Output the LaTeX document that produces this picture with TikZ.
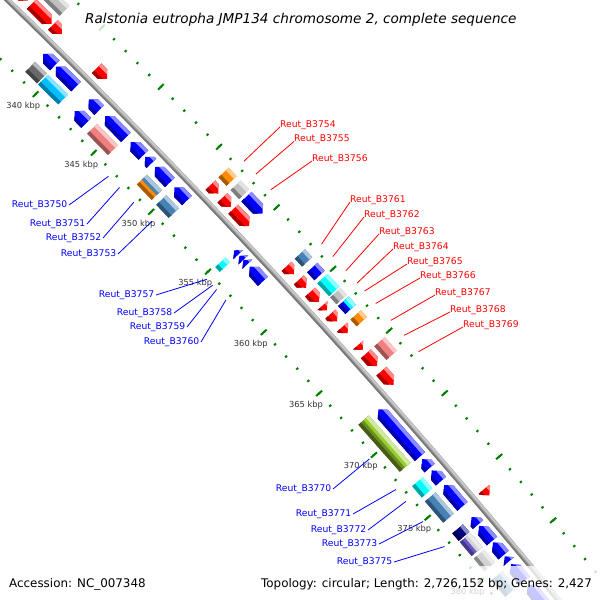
\documentclass[tikz,border=0pt]{standalone}
\usepackage{fontspec}
\setmainfont{DejaVu Sans}
\definecolor{cdsred}{RGB}{255,0,0}
\definecolor{cdsblue}{RGB}{0,0,255}
\definecolor{cgray}{RGB}{192,192,192}
\definecolor{cdgray}{RGB}{105,105,105}
\definecolor{corange}{RGB}{255,140,0}
\definecolor{csky}{RGB}{0,191,255}
\definecolor{ccyan}{RGB}{0,255,255}
\definecolor{csteel}{RGB}{70,130,180}
\definecolor{cpink}{RGB}{240,128,128}
\definecolor{cgreen}{RGB}{154,205,50}
\definecolor{colive}{RGB}{107,142,35}
\definecolor{cnavy}{RGB}{0,0,128}
\definecolor{cslate}{RGB}{106,90,205}
\definecolor{cltgray}{RGB}{211,211,211}
\definecolor{tickc}{RGB}{0,128,0}
\definecolor{bbgray}{RGB}{160,160,160}
\definecolor{bblight}{RGB}{200,200,200}
\definecolor{bbdark}{RGB}{120,120,120}
\definecolor{labred}{RGB}{255,0,0}
\definecolor{labblue}{RGB}{0,0,255}
\definecolor{ticktext}{RGB}{51,51,51}
\newcommand\Rb{7203.5}
\newcommand\gcalc[4]{%
  \pgfmathsetmacro\gnA{90-0.132054*#1}%
  \pgfmathsetmacro\gnB{90-0.132054*#2}%
  \pgfmathsetmacro\gnH{min(0.4,#2-#1)}%
  \pgfmathsetmacro\gnF{90-0.132054*(#2-\gnH)}%
  \pgfmathsetmacro\gnR{90-0.132054*(#1+\gnH)}%
  \pgfmathsetmacro\gnI{\Rb+(#3)}%
  \pgfmathsetmacro\gnO{\Rb+(#4)}%
  \pgfmathsetmacro\gnM{\Rb+((#3)+(#4))/2}%
  \pgfmathsetmacro\gnIb{\Rb+(#3)+0.27*((#4)-(#3))}%
  \pgfmathsetmacro\gnOb{\Rb+(#4)-0.27*((#4)-(#3))}%
}
\def\gpF{({\gnA}:{\gnI}) -- ({\gnA}:{\gnO}) -- ({\gnF}:{\gnO}) -- ({\gnB}:{\gnM}) -- ({\gnF}:{\gnI}) -- cycle}
\def\gpR{({\gnA}:{\gnM}) -- ({\gnR}:{\gnO}) -- ({\gnB}:{\gnO}) -- ({\gnB}:{\gnI}) -- ({\gnR}:{\gnI}) -- cycle}
\def\gpX{({\gnA}:{\gnI}) -- ({\gnA}:{\gnO}) -- ({\gnB}:{\gnO}) -- ({\gnB}:{\gnI}) -- cycle}
\newcommand\gene[6]{%
  \gcalc{#1}{#2}{#3}{#4}%
  \begin{scope}
    \clip #5;
    \fill[#6] ({\gnA+0.1}:{\gnI-1}) -- ({\gnA+0.1}:{\gnO+1}) -- ({\gnB-0.1}:{\gnO+1}) -- ({\gnB-0.1}:{\gnI-1}) -- cycle;
    \fill[#6!45!white] ({\gnA+0.1}:{\gnOb}) -- ({\gnA+0.1}:{\gnO+1}) -- ({\gnB-0.1}:{\gnO+1}) -- ({\gnB-0.1}:{\gnOb}) -- cycle;
    \fill[#6!65!black] ({\gnA+0.1}:{\gnI-1}) -- ({\gnA+0.1}:{\gnIb}) -- ({\gnB-0.1}:{\gnIb}) -- ({\gnB-0.1}:{\gnI-1}) -- cycle;
  \end{scope}}
\newcommand\genesplit[7]{%
  \gcalc{#1}{#2}{#3}{#4}%
  \begin{scope}
    \clip #5;
    \fill[#7] ({\gnA+0.1}:{\gnI-1}) -- ({\gnA+0.1}:{\gnO+1}) -- ({\gnB-0.1}:{\gnO+1}) -- ({\gnB-0.1}:{\gnI-1}) -- cycle;
    \fill[#6] ({\gnA+0.1}:{\gnM}) -- ({\gnA+0.1}:{\gnO+1}) -- ({\gnB-0.1}:{\gnO+1}) -- ({\gnB-0.1}:{\gnM}) -- cycle;
    \fill[#6!45!white] ({\gnA+0.1}:{\gnOb}) -- ({\gnA+0.1}:{\gnO+1}) -- ({\gnB-0.1}:{\gnO+1}) -- ({\gnB-0.1}:{\gnOb}) -- cycle;
    \fill[#7!65!black] ({\gnA+0.1}:{\gnI-1}) -- ({\gnA+0.1}:{\gnIb}) -- ({\gnB-0.1}:{\gnIb}) -- ({\gnB-0.1}:{\gnI-1}) -- cycle;
  \end{scope}}
\begin{document}
\begin{tikzpicture}[x=1pt,y=1pt,
  lblr/.style={text=labred, font=\fontsize{9.2}{11}\selectfont, inner sep=0pt, anchor=base west},
  lblb/.style={text=labblue, font=\fontsize{9.2}{11}\selectfont, inner sep=1.5pt, anchor=east},
  leadr/.style={draw=labred, line width=0.8},
  leadb/.style={draw=labblue, line width=0.8},
  ticklbl/.style={text=ticktext, font=\fontsize{8.3}{9}\selectfont, inner sep=0pt},
  minortick/.style={draw=tickc, line width=2},
  majortick/.style={draw=tickc, line width=2}]
\useasboundingbox (0,0) rectangle (600,-600);
\clip (0,0) rectangle (600,-600);
\fill[white] (0,0) rectangle (600,-600);
\begin{scope}[shift={(-5015,-5163)}]
  % tick rings
  \foreach \k in {333,...,386} {
    \pgfmathsetmacro\ta{90-0.132054*\k}
    \draw[minortick] (\ta:7248.8) -- (\ta:7251.3);
    \draw[minortick] (\ta:7154.8) -- (\ta:7157.3);
  }
  \foreach \k in {335,340,...,385} {
    \pgfmathsetmacro\ta{90-0.132054*\k}
    \draw[majortick] (\ta:7246) -- (\ta:7254);
    \draw[majortick] (\ta:7152) -- (\ta:7160);
  }
  \foreach \k in {340,345,...,380} {
    \pgfmathsetmacro\ta{90-0.132054*\k}
    \node[ticklbl] (t\k) at (\ta:7138.5) {\k\ kbp};
  }
  % backbone
  \draw[line width=5.5, bbgray] (46.6:\Rb) arc[start angle=46.6, end angle=38.4, radius=\Rb];
  \draw[line width=2, bblight] (46.6:\Rb+1.3) arc[start angle=46.6, end angle=38.4, radius=\Rb+1.3];
  \draw[line width=1.6, bbdark] (46.6:\Rb-1.9) arc[start angle=46.6, end angle=38.4, radius=\Rb-1.9];
  % forward CDS
  \foreach \a/\b in {333.4/335.7, 336.0/337.7, 337.8/338.55, 341.5/342.4, 351.3/352.0, 352.35/353.1, 353.3/354.7, 358.0/358.65, 359.1/359.75, 360.1/360.9, 361.2/361.6, 361.9/362.5, 362.95/363.45, 364.4/364.8, 365.1/366.1, 366.5/367.6, 375.9/376.4}
    {\gene{\a}{\b}{7}{20.5}{\gpF}{cdsred}}
  % reverse CDS
  \foreach \a/\b in {338.6/339.6, 339.7/341.4, 342.5/343.4, 343.9/345.7, 346.1/347.2, 347.35/347.9, 348.2/349.5, 349.9/351.0, 355.15/355.5, 355.6/355.95, 355.95/356.3, 356.5/357.7, 368.1/371.9, 372.1/372.8, 373.0/373.85, 374.15/375.85, 376.7/377.3, 377.4/378.6, 378.7/379.7, 379.8/380.2, 380.4/381.7, 382.0/383.6}
    {\gene{\a}{\b}{-20.5}{-7}{\gpR}{cdsblue}}
  % outer COG ring
  \gene{336.0}{337.7}{25}{39}{\gpX}{cgray}
  \gene{351.3}{352.0}{25}{39}{\gpX}{corange}
  \gene{352.35}{353.1}{25}{39}{\gpX}{cgray}
  \gene{353.3}{354.7}{25}{39}{\gpF}{cdsblue}
  \gene{358.0}{358.65}{25}{39}{\gpX}{csteel}
  \gene{359.1}{359.75}{25}{39}{\gpX}{cdsblue}
  \gene{360.0}{361.05}{25}{39}{\gpX}{ccyan}
  \gene{361.15}{361.7}{25}{39}{\gpX}{cgray}
  \genesplit{361.85}{362.5}{25}{39}{\gpX}{ccyan}{cdsblue}
  \gene{362.95}{363.5}{25}{39}{\gpX}{corange}
  \gene{365.1}{366.2}{25}{39}{\gpX}{cpink}
  % inner COG ring
  \gene{338.6}{339.6}{-39}{-25}{\gpX}{cdgray}
  \gene{339.7}{341.4}{-39}{-25}{\gpX}{csky}
  \gene{342.4}{343.4}{-39}{-25}{\gpR}{cdsblue}
  \gene{343.9}{345.7}{-39}{-25}{\gpX}{cpink}
  \genesplit{348.2}{349.5}{-39}{-25}{\gpX}{csteel}{corange}
  \gene{349.9}{351.0}{-39}{-25}{\gpX}{csteel}
  \gene{355.1}{355.5}{-39}{-25}{\gpX}{ccyan}
  \genesplit{368.0}{371.8}{-39}{-25}{\gpX}{cgreen}{colive}
  \gene{372.95}{373.85}{-39}{-25}{\gpX}{ccyan}
  \gene{374.15}{375.85}{-39}{-25}{\gpX}{csteel}
  \gene{376.7}{377.3}{-39}{-25}{\gpX}{cnavy}
  \genesplit{377.4}{378.5}{-39}{-25}{\gpX}{cltgray}{cslate}
  \gene{378.7}{379.7}{-39}{-25}{\gpX}{cltgray}
  \gene{380.4}{381.7}{-39}{-25}{\gpX}{csteel}
  % leader line end points
  \foreach \n/\k in {3754/351.65, 3755/352.7, 3756/354.0, 3761/358.45, 3762/359.45, 3763/360.6, 3764/361.6, 3765/362.25, 3766/363.25, 3767/364.6, 3768/365.8, 3769/367.1}
    {\coordinate (g\n) at ({90-0.132054*\k}:7258);}
  \foreach \n/\k in {3750/346.65, 3751/347.6, 3752/348.85, 3753/350.45, 3757/355.3, 3758/355.8, 3759/356.15, 3760/357.0, 3770/370.0, 3771/372.45, 3772/373.4, 3773/375.0, 3775/377.0}
    {\coordinate (g\n) at ({90-0.132054*\k}:7150);}
\end{scope}
% red labels
\foreach \n/\x/\y in {3754/280/127, 3755/294/141.5, 3756/312/161, 3761/350/202, 3762/364/217, 3763/379/234, 3764/393/249, 3765/407/264, 3766/420/278, 3767/435/295, 3768/450/312, 3769/463/327}
  {\node[lblr] (l\n) at (\x,-\y) {Reut\_B\n};
   \draw[leadr] (l\n.base west) -- (g\n);}
% blue labels
\foreach \n/\x/\y in {3750/69/205, 3751/87/224, 3752/103/238, 3753/118/254, 3757/156/295, 3758/174/313, 3759/187/327, 3760/201/342, 3770/333/489, 3771/353/514, 3772/368/530, 3773/379/544, 3775/394/562}
  {\node[lblb] (l\n) at (\x,-\y) {Reut\_B\n};
   \draw[leadb] (l\n.east) -- (g\n);}
% title and footer
\fill[white, opacity=0.8] (81,-4) rectangle (521,-31);
\node[font=\fontsize{13.6}{16}\selectfont\itshape, anchor=base west, inner sep=0pt] (title) at (85,-23) {Ralstonia eutropha JMP134 chromosome 2, complete sequence};
\fill[white, opacity=0.78] (255,-566) rectangle (600,-600);
\node[font=\fontsize{11.9}{14}\selectfont, anchor=base west, inner sep=0pt] (acc) at (9,-587) {Accession: NC\_007348};
\node[font=\fontsize{11.9}{14}\selectfont, anchor=base west, inner sep=0pt] (topo) at (261,-587) {Topology: circular; Length: 2,726,152 bp; Genes: 2,427};
\end{tikzpicture}
\end{document}
